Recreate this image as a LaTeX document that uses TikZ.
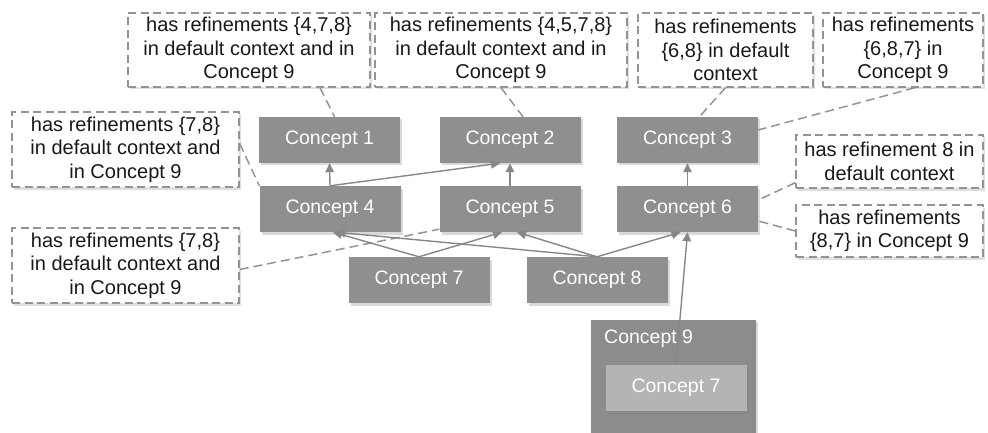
\documentclass[tikz,border=0pt]{standalone}
\usepackage{fontspec}
\setmainfont{Liberation Sans}
\usetikzlibrary{arrows.meta,shadows}
\definecolor{cgray}{HTML}{8F8F8F}
\definecolor{cgrayouter}{HTML}{8C8C8C}
\definecolor{cgraylight}{HTML}{B4B4B4}
\definecolor{lgray}{HTML}{878787}
\definecolor{dgray}{HTML}{939393}
\begin{document}
\begin{tikzpicture}[x=1pt,y=-1pt,
  concept/.style={fill=cgray,text=white,minimum width=141pt,minimum height=46pt,inner sep=0pt,
    font=\fontsize{19.5}{22}\selectfont,drop shadow={shadow xshift=2pt,shadow yshift=-2.5pt,opacity=0.3}},
  callout/.style={draw=dgray,dash pattern=on 8pt off 4.5pt,line width=1.4pt,fill=white,text=black!90,
    align=center,inner sep=0pt,minimum height=74pt,font=\fontsize{20}{23.5}\selectfont,
    drop shadow={shadow xshift=1.5pt,shadow yshift=-2.5pt,opacity=0.25}},
  refl/.style={draw=lgray,line width=1.4pt,-{Triangle[length=9pt,width=8.5pt]}},
  note/.style={draw=dgray,line width=1.5pt,dash pattern=on 9pt off 5pt}]
\useasboundingbox (0,0) rectangle (988,433);
% Concept 9 container
\node[fill=cgrayouter,minimum width=165pt,minimum height=114pt,inner sep=0pt,
  drop shadow={shadow xshift=2pt,shadow yshift=-2.5pt,opacity=0.3}] (c9) at (673.5,376.5) {};
\node[text=white,anchor=west,inner sep=0pt,font=\fontsize{19.5}{22}\selectfont] (c9l) at (604,339) {Concept 9};
% concepts
\node[concept] (c1) at (329.5,140) {Concept 1};
\node[concept] (c2) at (510,140) {Concept 2};
\node[concept] (c3) at (687.5,140) {Concept 3};
\node[concept] (c4) at (330,209) {Concept 4};
\node[concept] (c5) at (510,209) {Concept 5};
\node[concept] (c6) at (687.5,209) {Concept 6};
\node[concept] (c7) at (419,280) {Concept 7};
\node[concept] (c8) at (597,280) {Concept 8};
\node[concept,fill=cgraylight] (c7b) at (676,388) {Concept 7};
% callouts
\node[callout,minimum width=242pt] (b1) at (249,50) {has refinements \{4,7,8\}\\in default context and in\\Concept 9};
\node[callout,minimum width=252pt] (b2) at (501,50) {has refinements \{4,5,7,8\}\\in default context and in\\Concept 9};
\node[callout,minimum width=175pt] (b3) at (725.5,50) {has refinements\\\{6,8\} in default\\context};
\node[callout,minimum width=160pt] (b4) at (903,50) {has refinements\\\{6,8,7\} in\\Concept 9};
\node[callout,minimum width=227pt,minimum height=75pt] (bA) at (125.5,149.5) {has refinements \{7,8\}\\in default context and\\in Concept 9};
\node[callout,minimum width=227pt,minimum height=75pt] (bB) at (125.5,265.5) {has refinements \{7,8\}\\in default context and\\in Concept 9};
\node[callout,minimum width=187pt,minimum height=53pt] (bC) at (889.5,161.5) {has refinement 8 in\\default context};
\node[callout,minimum width=187pt,minimum height=52pt] (bD) at (889.5,231) {has refinements\\\{8,7\} in Concept 9};
% dashed notes
\draw[note] ([xshift=71pt]b1.south) -- ([xshift=5pt]c1.north);
\draw[note] (b2.south) -- ([xshift=13pt]c2.north);
\draw[note] (b3.south) -- ([xshift=12pt]c3.north);
\draw[note] ([xshift=12pt]b4.south) -- ([yshift=10pt]c3.east);
\draw[note] ([yshift=6pt]bA.east) -- (c4.north west);
\draw[note] ([yshift=-4pt]bB.east) -- ([yshift=3pt]c5.south west);
\draw[note] ([yshift=6pt]bC.south west) -- ([yshift=9pt]c6.east);
\draw[note] (bD.west) -- ([yshift=-12pt]c6.east);
% refinement arrows
\draw[refl] (c4.north) -- (c1.south);
\draw[refl] (c4.north) -- ([xshift=-10pt]c2.south);
\draw[refl] (c5.north) -- (c2.south);
\draw[refl] (c6.north) -- (c3.south);
\draw[refl] (c7.north) -- ([xshift=3pt]c4.south);
\draw[refl] (c8.north) -- ([xshift=6pt]c4.south);
\draw[refl] (c7.north) -- ([xshift=-8pt]c5.south);
\draw[refl] (c8.north) -- ([xshift=7pt]c5.south);
\draw[refl] (c8.north) -- ([xshift=-7pt]c6.south);
\draw[refl] (c7b.north) -- (c6.south);
\end{tikzpicture}
\end{document}
